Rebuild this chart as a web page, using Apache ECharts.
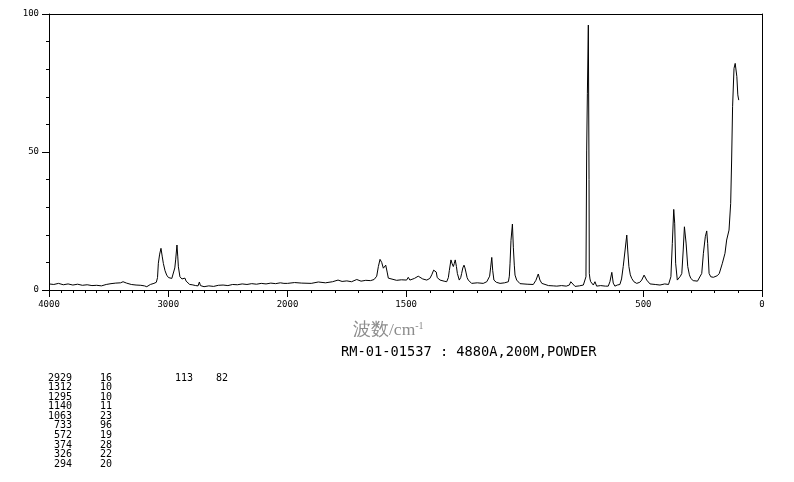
<!DOCTYPE html>
<html><head><meta charset="utf-8">
<script src="https://cdn.jsdelivr.net/npm/echarts@6/dist/echarts.min.js"></script>
<style>html,body{margin:0;padding:0;background:#fff}#c{width:794px;height:482px}</style>
</head><body><div id="c"></div>
<script>
// Raman spectrum (wavenumber cm-1, relative intensity)
const wavenumbers = [4000,3960,3920,3880,3840,3800,3760,3720,3680,3640,3600,3560,3520,3480,3440,3400,3379,3350,3310,3270,3230,3200,3180,3150,3120,3100,3090,3083,3072,3061,3050,3041,3027,3013,2998,2985,2970,2958,2945,2938,2927,2920,2915,2902,2885,2874,2860,2850,2840,2820,2800,2770,2750,2739,2730,2700,2660,2620,2580,2540,2500,2460,2420,2380,2340,2300,2260,2220,2180,2140,2100,2060,2030,2000,
1970,1940,1900,1870,1840,1810,1787,1770,1750,1730,1708,1690,1670,1650,1635,1624,1617,1610,1603,1596,1590,1586,1580,1575,1568,1540,1520,1498,1491,1484,1465,1449,1430,1413,1400,1392,1384,1378,1373,1369,1357,1340,1329,1322,1318,1311,1306,1301,1297,1293,1288,1284,1276,1270,1266,1261,1256,1252,1248,1243,1238,1224,1200,1175,1160,1154,1148,1144,1139,1135,1130,1120,1104,1085,1069,1065,1062,1058,1052,1048,1044,1041,1034,1020,1013,990,964,953,943,936,928,922,900,880,865,845,825,812,806,800,788,770,753,745,742,739,736,732,729,728,725,722,711,704,697,680,660,648,641,633,627,620,610,599,592,585,577,570,566,561,555,549,540,528,515,507,497,486,472,450,430,410,394,388,384,378,372,368,364,357,350,344,338,332,327,320,313,306,300,290,282,272,264,254,247,239,233,229,223,216,205,198,188,180,167,156,149,139,132,128,124,118,113,109,106,102,98];
const intensities = [2.2,2.0,2.4,1.9,2.2,1.8,2.1,1.7,1.9,1.6,1.7,1.5,2.0,2.3,2.5,2.6,3.0,2.5,2.0,1.8,1.7,1.5,1.2,2.0,2.4,2.8,4.5,9.7,13,15.1,12,9.6,7.0,5.4,4.5,3.9,4.2,4.8,8.0,10.9,16.3,12,8.4,4.8,4.0,3.6,4.3,3.2,2.5,2.0,1.9,1.6,1.5,2.9,1.6,1.2,1.5,1.3,1.7,1.8,1.6,2.0,1.9,2.2,2.0,2.3,2.1,2.4,2.2,2.5,2.3,2.6,2.4,2.4,
2.7,2.5,2.4,2.9,2.6,3.0,3.6,3.1,3.3,3.0,3.8,3.2,3.5,3.4,3.8,5.0,8.5,11.1,10.0,7.9,8.6,9.0,6.5,4.3,3.6,3.5,3.7,3.6,4.6,3.6,4.2,5.0,4.0,3.6,4.2,5.5,7.2,7.8,6.5,4.5,3.6,3.2,3.0,4.5,7.0,10.9,9.5,8.5,9.6,10.9,8.5,6.0,3.6,4.5,6.0,8.0,9.0,8.0,6.5,4.5,3.6,2.4,2.6,2.4,3.0,3.6,5.0,8.0,11.8,7.0,3.6,2.8,2.4,2.6,3.0,5.0,9.7,18.0,23.9,15.3,9.0,5.4,3.6,2.3,2.0,2.1,2.0,3.5,5.8,3.6,2.4,1.8,1.6,1.5,1.4,1.6,1.4,1.8,3.0,2.5,1.3,1.5,1.8,2.5,4.8,50.7,71.3,96.0,40,6.0,4.0,3.0,1.8,3.0,1.4,1.6,1.4,1.4,3.0,6.4,2.5,1.4,1.8,2.0,4.0,8.5,14.5,19.9,14.5,8.5,5.5,4.2,3.0,2.4,2.8,3.6,5.4,3.6,2.2,2.0,1.8,2.2,2.0,2.2,4.8,16.9,29.2,24.2,9.7,3.6,4.2,5.0,6.0,14.5,22.9,17.0,8.5,5.5,4.2,3.4,3.0,3.2,3.6,6.0,13.3,19.3,21.4,16.9,6.0,4.8,4.6,4.8,5.2,6.0,9.7,13.3,18.1,21.7,31.4,47.1,66.4,80.3,82.1,82.7,77.3,70.7,68.8];

const xLabelsLeft = [4000, 3000];
const xLabelsRight = [2000, 1500, 500, 0];
const yLabels = [0, 50, 100];
const peakWavenumbers = [2929,1312,1295,1140,1063,733,572,374,326,294];
const peakValues = [16,10,10,11,23,96,19,28,22,20];
const extraPeak = ['113', '82'];
const axisName = '波数/cm';
const axisNameSup = '-1';
const sampleInfo = 'RM-01-01537 : 4880A,200M,POWDER';

const leftData = [], rightData = [];
wavenumbers.forEach((w, i) => {
  if (w >= 2000) leftData.push([w, intensities[i]]);
  if (w <= 2000) rightData.push([w, intensities[i]]);
});

const lblFont = {color:'#000', fontFamily:'DejaVu Sans Mono', fontSize:9};
const black = {color:'#000', width:1};
const tblFont = '10px "DejaVu Sans Mono"';

const graphics = [];
peakWavenumbers.forEach((w, i) => {
  const y = 378 + i * 9.56;
  graphics.push({type:'text', x:72, y:y, style:{text:String(w), fill:'#000', font:tblFont, textAlign:'right', textVerticalAlign:'middle'}});
  graphics.push({type:'text', x:112, y:y, style:{text:String(peakValues[i]), fill:'#000', font:tblFont, textAlign:'right', textVerticalAlign:'middle'}});
});
graphics.push({type:'text', x:193, y:378, style:{text:extraPeak[0], fill:'#000', font:tblFont, textAlign:'right', textVerticalAlign:'middle'}});
graphics.push({type:'text', x:228, y:378, style:{text:extraPeak[1], fill:'#000', font:tblFont, textAlign:'right', textVerticalAlign:'middle'}});

const chart = echarts.init(document.getElementById('c'), null, {renderer:'canvas'});
chart.setOption({
  animation:false,
  backgroundColor:'#fff',
  title:[
    {text:'{a|'+axisName+'}{b|'+axisNameSup+'}', left:353, top:321, padding:0,
     textStyle:{fontWeight:'normal', rich:{a:{color:'#8c8c8c', fontSize:17.5, fontWeight:'normal', fontFamily:'serif', verticalAlign:'bottom'},
                      b:{color:'#8c8c8c', fontSize:10, fontWeight:'normal', fontFamily:'serif', verticalAlign:'top', padding:[0,0,7,0]}}}},
    {text:sampleInfo, left:341, top:345, padding:0, textStyle:{color:'#000', fontSize:13.7, fontWeight:'normal', fontFamily:'DejaVu Sans Mono'}}
  ],
  grid:[
    {left:49, top:14, width:238.5, height:276},
    {left:287.5, top:14, width:474.5, height:276}
  ],
  xAxis:[
    {gridIndex:0, type:'value', min:2000, max:4000, inverse:true, interval:1000, position:'bottom',
     axisLine:{show:true, lineStyle:black}, axisTick:{show:true, length:7, lineStyle:black},
     minorTick:{show:true, splitNumber:10, length:3, lineStyle:black},
     axisLabel:{margin:10, formatter:v => xLabelsLeft.includes(v) ? String(v) : '', ...lblFont},
     splitLine:{show:false}},
    {gridIndex:1, type:'value', min:0, max:2000, inverse:true, interval:100, position:'bottom',
     axisLine:{show:true, lineStyle:black}, axisTick:{show:true, length:3, lineStyle:black},
     axisLabel:{margin:10, customValues:xLabelsRight, formatter:v => String(v), ...lblFont},
     splitLine:{show:false}},
    {gridIndex:1, type:'value', min:0, max:2000, inverse:true, position:'bottom',
     axisLine:{show:false}, axisTick:{show:true, length:7, customValues:xLabelsRight, lineStyle:black},
     axisLabel:{show:false}, splitLine:{show:false}},
    {gridIndex:0, type:'value', min:2000, max:4000, inverse:true, position:'top',
     axisLine:{show:true, lineStyle:black}, axisTick:{show:false}, axisLabel:{show:false}, splitLine:{show:false}},
    {gridIndex:1, type:'value', min:0, max:2000, inverse:true, position:'top',
     axisLine:{show:true, lineStyle:black}, axisTick:{show:false}, axisLabel:{show:false}, splitLine:{show:false}}
  ],
  yAxis:[
    {gridIndex:0, type:'value', min:0, max:100, interval:50, position:'left',
     axisLine:{show:true, lineStyle:black}, axisTick:{show:true, length:7, lineStyle:black},
     minorTick:{show:true, splitNumber:5, length:3, lineStyle:black},
     axisLabel:{margin:10, customValues:yLabels, ...lblFont}, splitLine:{show:false}},
    {gridIndex:1, type:'value', min:0, max:100, position:'right',
     axisLine:{show:true, lineStyle:black}, axisTick:{show:false}, axisLabel:{show:false}, splitLine:{show:false}}
  ],
  series:[
    {type:'line', xAxisIndex:0, yAxisIndex:0, data:leftData, showSymbol:false, symbol:'none',
     lineStyle:{color:'#000', width:1}, silent:true},
    {type:'line', xAxisIndex:1, yAxisIndex:1, data:rightData, showSymbol:false, symbol:'none',
     lineStyle:{color:'#000', width:1}, silent:true}
  ],
  graphic:graphics
});
</script></body></html>
